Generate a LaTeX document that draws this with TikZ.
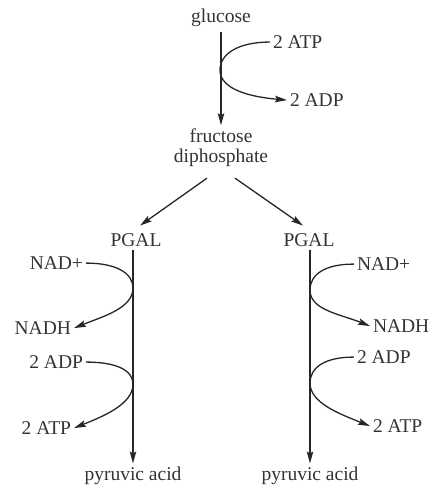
\documentclass[tikz,border=0pt]{standalone}
\usepackage{fontspec}
\setmainfont{Liberation Serif}
\usetikzlibrary{arrows.meta}
\begin{document}
\begin{tikzpicture}[x=1pt,y=-1pt,
  lbl/.style={inner sep=0pt, outer sep=3pt, font=\fontsize{19.5}{20}\selectfont, text=black!80},
  arr/.style={draw=black!85, line width=1.3pt, -{Stealth[length=12pt,width=6.5pt,inset=2pt]}},
]
\useasboundingbox (0,0) rectangle (432,493);
% top
\node[lbl, anchor=base] (glucose) at (221,22) {glucose};
\node[lbl, anchor=base west] (atpT) at (270,48.5) {2 ATP};
\node[lbl, anchor=base west] (adpT) at (287,106.5) {2 ADP};
\node[lbl, anchor=base, align=center] (fructose) at (221,162) {fructose\\diphosphate};
\coordinate (tT) at (220,70);
% left branch
\node[lbl, anchor=base] (pgalL) at (136,246.5) {PGAL};
\node[lbl, anchor=base east] (nadL) at (86,269.5) {NAD+};
\node[lbl, anchor=base east] (nadhL) at (74,334.5) {NADH};
\node[lbl, anchor=base east] (adpL) at (86,368.5) {2 ADP};
\node[lbl, anchor=base east] (atpL) at (74,434.5) {2 ATP};
\node[lbl, anchor=base] (pyrL) at (133,480) {pyruvic acid};
\coordinate (tL1) at (133,288);
\coordinate (tL2) at (133,384);
% right branch
\node[lbl, anchor=base] (pgalR) at (309,246.5) {PGAL};
\node[lbl, anchor=base west] (nadR) at (354,270.5) {NAD+};
\node[lbl, anchor=base west] (nadhR) at (370,332.5) {NADH};
\node[lbl, anchor=base west] (adpR) at (354,363.5) {2 ADP};
\node[lbl, anchor=base west] (atpR) at (370,432.5) {2 ATP};
\node[lbl, anchor=base] (pyrR) at (310,480) {pyruvic acid};
\coordinate (tR1) at (310,290);
\coordinate (tR2) at (310,383);
% main arrows
\draw[arr, shorten <=2.5pt] (glucose.south) -- (fructose.north);
\draw[arr] ([shift={(-14pt,-9pt)}]fructose.south) -- ([shift={(4pt,5pt)}]pgalL.north);
\draw[arr] ([shift={(14pt,-9pt)}]fructose.south) -- ([shift={(-6pt,5pt)}]pgalR.north);
\draw[arr] (pgalL.south -| pyrL.north) -- (pyrL.north);
\draw[arr] (pgalR.south -| pyrR.north) -- (pyrR.north);
% side curves
\draw[arr] (atpT.west) .. controls +(-32,0) and +(0,-16) .. (tT) .. controls +(0,20) and +(-35,-3) .. (adpT.west);
\draw[arr] (nadL.east) .. controls +(30,0) and +(0,-15) .. (tL1) .. controls +(0,20) and +(30,-12) .. (nadhL.east);
\draw[arr] (adpL.east) .. controls +(30,0) and +(0,-14) .. (tL2) .. controls +(0,20) and +(30,-12) .. (atpL.east);
\draw[arr] (nadR.west) .. controls +(-30,0) and +(0,-15) .. (tR1) .. controls +(0,20) and +(-30,-12) .. (nadhR.west);
\draw[arr] (adpR.west) .. controls +(-30,0) and +(0,-15) .. (tR2) .. controls +(0,20) and +(-30,-12) .. (atpR.west);
\end{tikzpicture}
\end{document}
